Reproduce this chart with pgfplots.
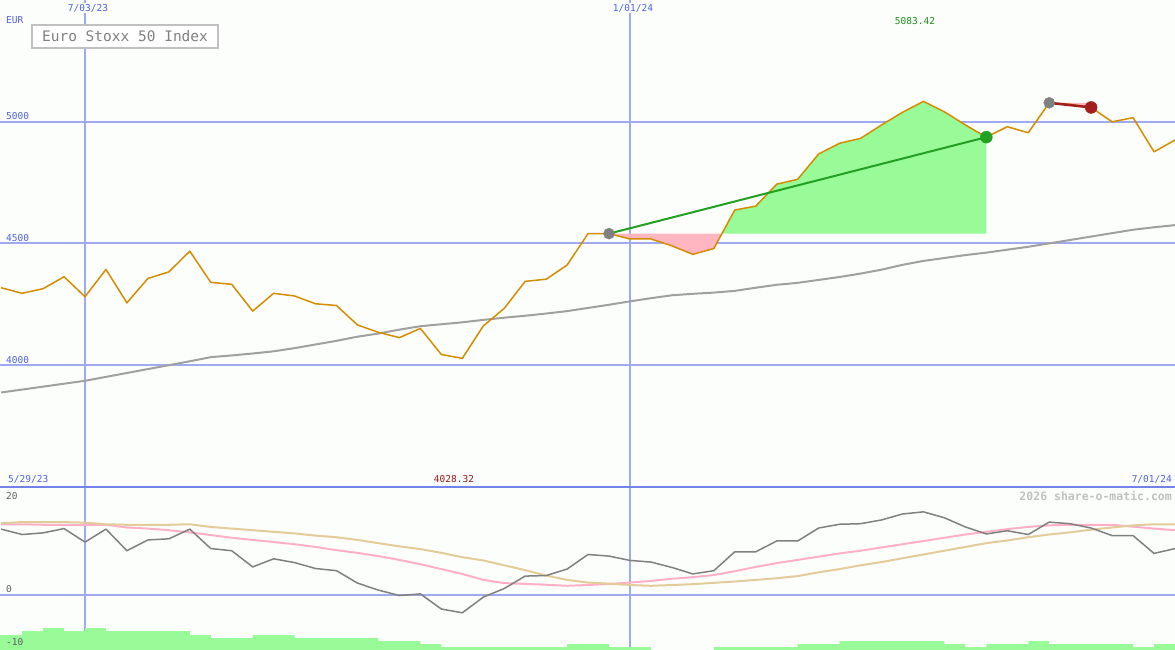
\documentclass[border=0pt]{standalone}
\usepackage{fontspec}
\setmainfont{DejaVu Sans Mono}
\usepackage{pgfplots}
\usepackage{pgfplotstable}
\pgfplotsset{compat=1.18}
\definecolor{bgcol}{RGB}{252,254,252}
\definecolor{gridblue}{RGB}{160,170,240}
\definecolor{sepblue}{RGB}{115,130,232}
\definecolor{txtblue}{RGB}{80,96,232}
\definecolor{priceor}{RGB}{212,140,0}
\definecolor{magray}{RGB}{160,160,160}
\definecolor{fillgreen}{RGB}{152,251,152}
\definecolor{fillpink}{RGB}{255,182,193}
\definecolor{linegreen}{RGB}{34,160,34}
\definecolor{dotred}{RGB}{165,30,30}
\definecolor{oscgray}{RGB}{128,128,128}
\definecolor{pinkline}{RGB}{255,176,200}
\definecolor{tanline}{RGB}{226,204,154}
\definecolor{wmgray}{RGB}{192,192,192}
\definecolor{lblgray}{RGB}{96,96,96}
\definecolor{minred}{RGB}{160,24,24}
\definecolor{maxgreen}{RGB}{24,144,24}

% week index k: 0 = 7/03/23, 26 = 1/01/24, 52 = 7/01/24
\pgfplotstableread{
k v ma
-4 4318 3888
-3 4295 3900
-2 4314 3912
-1 4363 3924
0 4281 3936
1 4393 3952
2 4256 3968
3 4356 3984
4 4383 4000
5 4468 4016
6 4340 4033
7 4332 4040
8 4222 4048
9 4295 4057
10 4284 4070
11 4252 4085
12 4245 4100
13 4165 4117
14 4135 4130
15 4113 4146
16 4151 4160
17 4044 4168
18 4028 4176
19 4161 4186
20 4233 4195
21 4344 4203
22 4353 4212
23 4411 4222
24 4540 4235
25 4540 4248
26 4518 4262
27 4518 4275
28 4490 4287
29 4455 4293
30 4479 4298
31 4637 4305
32 4653 4318
33 4743 4330
34 4763 4338
35 4867 4350
36 4911 4362
37 4931 4376
38 4986 4392
39 5038 4412
40 5083 4428
41 5040 4440
42 4986 4452
43 4936 4462
44 4979 4474
45 4954 4486
46 5077 4500
47 5071 4514
48 5058 4528
49 4999 4542
50 5016 4556
51 4876 4566
52 4924 4575
}\price

\pgfplotstableread{
k osc pk tan
-4 12.2 13.1 13.3
-3 11.2 13.1 13.5
-2 11.5 13.0 13.5
-1 12.3 13.0 13.5
0 9.8 13.0 13.4
1 12.2 13.0 13.1
2 8.2 12.5 13.0
3 10.2 12.3 13.0
4 10.4 12.0 13.0
5 12.2 11.6 13.1
6 8.6 11.1 12.6
7 8.2 10.6 12.3
8 5.2 10.2 12.0
9 6.7 9.8 11.7
10 6.0 9.4 11.4
11 4.9 8.9 11.0
12 4.5 8.3 10.7
13 2.2 7.8 10.2
14 0.9 7.2 9.6
15 -0.1 6.5 9.0
16 0.2 5.7 8.5
17 -2.6 4.8 7.8
18 -3.3 3.9 7.0
19 -0.4 2.8 6.4
20 1.2 2.2 5.5
21 3.5 2.05 4.6
22 3.6 1.9 3.6
23 4.8 1.7 2.8
24 7.5 1.85 2.3
25 7.2 2.05 2.1
26 6.4 2.3 1.85
27 6.1 2.6 1.7
28 5.1 3.0 1.85
29 3.9 3.3 2.0
30 4.5 3.7 2.25
31 8.0 4.4 2.5
32 8.0 5.2 2.8
33 10.0 5.9 3.1
34 10.0 6.5 3.5
35 12.4 7.1 4.2
36 13.1 7.7 4.8
37 13.2 8.2 5.5
38 13.9 8.8 6.1
39 15.0 9.4 6.8
40 15.4 10.0 7.5
41 14.3 10.6 8.2
42 12.6 11.2 8.9
43 11.3 11.7 9.6
44 11.9 12.2 10.1
45 11.2 12.6 10.7
46 13.5 12.9 11.2
47 13.2 13.0 11.6
48 12.4 13.0 12.1
49 11.0 13.0 12.5
50 11.0 12.65 12.9
51 7.7 12.3 13.1
52 8.6 12.0 13.1
}\osc

\pgfplotstableread{
k h
-4.055 15
-3 19
-2 22
-1 19
0 22
1 19
2 19
3 19
4 19
5 15
6 12
7 12
8 15
9 15
10 12
11 12
12 12
13 12
14 9
15 9
16 6
17 3
18 3
19 3
20 3
21 3
22 3
23 6
24 6
25 3
26 3
27 0
28 0
29 0
30 3
31 3
32 3
33 3
34 6
35 6
36 9
37 9
38 9
39 9
40 9
41 6
42 3
43 6
44 6
45 9
46 6
47 6
48 6
49 6
50 3
51 6
52 6
}\hist

\begin{document}
\begin{tikzpicture}
\useasboundingbox (0pt,0pt) rectangle (1175pt,-650pt);
\fill[bgcol] (0pt,0pt) rectangle (1175pt,-650pt);
\pgfplotsset{panel/.style={scale only axis, width=1175pt, xmin=-4.055, xmax=52,
  axis line style={draw=none}, tick style={draw=none}, xticklabels={}, yticklabels={},
  grid=major, clip=true}}

% ---------- top panel ----------
\begin{axis}[panel, at={(0pt,0pt)}, anchor=north west, height=487pt,
  ymin=3500, ymax=5499, xtick={0}, ytick={4000,4500,5000},
  major grid style={gridblue, line width=2pt}]
\draw[gridblue, line width=1.2pt] (axis cs:26,3500) -- (axis cs:26,5499);
\addplot[fill=fillpink, draw=none] coordinates {(25,4540) (26,4518) (27,4518) (28,4490) (29,4455) (30,4479) (30.386,4540)};
\addplot[fill=fillgreen, draw=none] coordinates {(30.386,4540) (31,4637) (32,4653) (33,4743) (34,4763) (35,4867) (36,4911) (37,4931) (38,4986) (39,5038) (40,5083) (41,5040) (42,4986) (43,4936) (43,4540)};
\addplot[fill=fillpink, draw=none] coordinates {(46,5077) (47,5071) (48,5058) (48,5077)};
\addplot[magray, line width=2pt] table[x=k, y=ma] {\price};
\addplot[priceor, line width=1.5pt, line join=round] table[x=k, y=v] {\price};
\addplot[linegreen, line width=2pt] coordinates {(25,4540) (43,4936)};
\addplot[dotred, line width=2.5pt] coordinates {(46,5077) (48,5058)};
\addplot[only marks, mark=*, mark size=5.5pt, oscgray] coordinates {(25,4540) (46,5077)};
\addplot[only marks, mark=*, mark size=6pt, linegreen] coordinates {(43,4936)};
\addplot[only marks, mark=*, mark size=6pt, dotred] coordinates {(48,5058)};
\end{axis}

% ---------- bottom panel ----------
\begin{axis}[panel, at={(0pt,-487pt)}, anchor=north west, height=163pt,
  ymin=-10.19, ymax=20, xtick={0}, ytick={0},
  major grid style={gridblue, line width=2pt}]
\draw[gridblue, line width=1.2pt] (axis cs:26,-10.19) -- (axis cs:26,20);
\addplot[pinkline, line width=2pt] table[x=k, y=pk] {\osc};
\addplot[tanline, line width=2pt] table[x=k, y=tan] {\osc};
\addplot[oscgray, line width=1.5pt, line join=round] table[x=k, y=osc] {\osc};
\end{axis}

% histogram, anchored to the bottom edge
\begin{axis}[scale only axis, width=1175pt, height=163pt, at={(0pt,-487pt)}, anchor=north west,
  xmin=-4.055, xmax=52, ymin=0, ymax=163, hide axis]
\addplot[ybar interval, fill=fillgreen, draw=none] table[x=k, y=h] {\hist};
\end{axis}

\draw[sepblue, line width=2.5pt] (0pt,-487pt) -- (1175pt,-487pt);

% texts
\tikzset{sm/.style={inner sep=1pt, font=\fontsize{9.5pt}{11pt}\selectfont}}
\node[sm, anchor=west, text=txtblue] at (5pt,-20pt) {EUR};
\node[sm, text=txtblue, fill=bgcol] at (88pt,-8pt) {7/03/23};
\node[sm, text=txtblue, fill=bgcol] at (633pt,-8pt) {1/01/24};
\node[sm, text=maxgreen] at (915pt,-21pt) {5083.42};
\node[sm, anchor=west, text=txtblue] at (5pt,-116pt) {5000};
\node[sm, anchor=west, text=txtblue] at (5pt,-238pt) {4500};
\node[sm, anchor=west, text=txtblue] at (5pt,-360pt) {4000};
\node[sm, anchor=west, text=txtblue] at (7pt,-479pt) {5/29/23};
\node[sm, text=minred] at (454pt,-479pt) {4028.32};
\node[sm, anchor=east, text=txtblue] at (1173pt,-479pt) {7/01/24};
\node[anchor=east, inner sep=1pt, text=wmgray, font=\fontsize{11.5pt}{13pt}\selectfont\bfseries] at (1173pt,-496pt) {2026 share-o-matic.com};
\node[sm, anchor=west, text=lblgray] at (5pt,-496pt) {20};
\node[sm, anchor=west, text=lblgray] at (5pt,-589pt) {0};
\node[sm, anchor=west, text=lblgray] at (5pt,-642pt) {-10};
\node[draw=wmgray, line width=1.5pt, fill=white, minimum width=186pt, minimum height=23pt, inner sep=0pt,
  text=oscgray, font=\fontsize{14.5pt}{16pt}\selectfont] at (125pt,-36.5pt) {Euro Stoxx 50 Index};
\end{tikzpicture}
\end{document}
